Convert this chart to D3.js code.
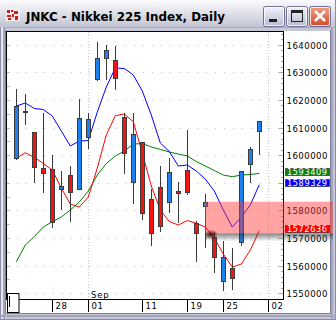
<!DOCTYPE html>
<html><head><meta charset="utf-8">
<script src="https://cdn.jsdelivr.net/npm/d3@7"></script>
<style>html,body{margin:0;padding:0;background:#fff;overflow:hidden}</style>
</head><body><svg id="c" width="336" height="320"></svg>
<script>
// ---------- DATA ----------
const title = "JNKC - Nikkei 225 Index, Daily";
const dates = ["2006-08-22","2006-08-23","2006-08-24","2006-08-25","2006-08-28","2006-08-29","2006-08-30","2006-08-31",
  "2006-09-01","2006-09-04","2006-09-05","2006-09-06","2006-09-07","2006-09-08","2006-09-11","2006-09-12","2006-09-13",
  "2006-09-14","2006-09-15","2006-09-19","2006-09-20","2006-09-21","2006-09-22","2006-09-25","2006-09-26","2006-09-27",
  "2006-09-28","2006-09-29"];
const futureDates = ["2006-10-02"];
const opens  = [1598900,1615700,1608300,1595400,1595000,1587600,1592800,1587900,1606700,1627500,1635100,1634500,1613700,1590400,
  1604600,1584100,1588400,1583000,1587200,1594500,1575400,1581600,1570500,1554400,1559100,1568700,1596800,1608900];
const highs  = [1624000,1622100,1608500,1615300,1600100,1594300,1596100,1620300,1615200,1641000,1639900,1639600,1615200,1615400,
  1604700,1587600,1596100,1598900,1590300,1609100,1576200,1585900,1572300,1568900,1566500,1594300,1603000,1612400];
const lows   = [1598700,1611200,1590400,1586800,1574100,1580500,1576300,1587600,1602500,1627400,1627500,1623900,1593700,1582800,
  1576800,1567400,1572700,1579600,1575900,1586100,1561800,1566900,1557800,1551200,1551500,1567500,1590400,1600300];
const closes = [1617800,1615900,1595600,1593400,1575900,1588900,1586800,1613400,1613100,1635200,1638100,1627800,1600700,1607600,
  1579000,1571700,1574500,1593900,1586200,1586800,1571700,1583100,1563000,1563000,1555400,1594200,1602100,1612300];
const maShort = [1598870,1600890,1599230,1596980,1594630,1588110,1582320,1581230,1584850,1595350,1607300,1614290,1614910,1612120,
  1600790,1588840,1580150,1575980,1574710,1576340,1575330,1573990,1570010,1564210,1559500,1560590,1565660,1572636];
const maMid = [1617800,1618890,1616900,1616540,1614180,1608750,1603320,1605130,1605310,1615630,1624680,1631560,1631400,1629030,
  1623240,1614540,1604410,1601330,1596080,1596440,1594270,1591370,1587030,1580150,1573990,1577610,1581960,1589329];
const maLong = [1561420,1567470,1570550,1573990,1575910,1577610,1580150,1583040,1587030,1592820,1596980,1599700,1601510,1604040,
  1604220,1602960,1602120,1601150,1600420,1599700,1597710,1596080,1594450,1592820,1592200,1592820,1593000,1593409];
const yTicks = [1550000,1560000,1570000,1580000,1590000,1600000,1610000,1620000,1630000,1640000];
const xTickDates = ["2006-08-28","2006-09-01","2006-09-11","2006-09-19","2006-09-25","2006-10-02"];
const xTickLabels = ["28","01","11","19","25","02"];
const monthDates = ["2006-09-01","2006-10-02"];
const monthLabels = ["Sep",""];
const zoneTop = 1583150, zoneBottom = 1571700, zoneStart = "2006-09-21";

// ---------- SETUP ----------
const svg = d3.select("#c");
const defs = svg.append("defs");
const slots = dates.concat(futureDates);
const x = d3.scalePoint().domain(slots).range([16.3, 268.3]);
const y = d3.scaleLinear().domain([1550000, 1640000]).range([293.3, 44.7]);
const px = v => Math.round(v);
const P = {l:6.5, t:31.5, r:283.5, b:299.5};

// ---------- WINDOW CHROME ----------
svg.append("rect").attr("x",0).attr("y",0).attr("width",336).attr("height",320).attr("fill","#c6c7d6");
const tg = defs.append("linearGradient").attr("id","tbar").attr("x1",0).attr("y1",0).attr("x2",0).attr("y2",1);
tg.append("stop").attr("offset",0).attr("stop-color","#fbfbfd");
tg.append("stop").attr("offset",0.45).attr("stop-color","#e2e2ea");
tg.append("stop").attr("offset",1).attr("stop-color","#c3c4d4");
svg.append("rect").attr("x",0).attr("y",0).attr("width",336).attr("height",27).attr("fill","url(#tbar)");
svg.append("line").attr("x1",0).attr("x2",336).attr("y1",27.5).attr("y2",27.5).attr("stroke","#a8a9bf");
svg.append("rect").attr("x",0).attr("y",27).attr("width",1).attr("height",293).attr("fill","#8c8ca6");
svg.append("rect").attr("x",1).attr("y",27).attr("width",2).attr("height",293).attr("fill","#e6e6ef");
svg.append("rect").attr("x",3).attr("y",27).attr("width",2).attr("height",293).attr("fill","#a4a4bc");
svg.append("rect").attr("x",331).attr("y",27).attr("width",2).attr("height",293).attr("fill","#a4a4bc");
svg.append("rect").attr("x",335).attr("y",0).attr("width",1).attr("height",320).attr("fill","#8c8ca6");
svg.append("rect").attr("x",0).attr("y",315).attr("width",336).attr("height",2).attr("fill","#a4a4bc");
svg.append("rect").attr("x",0).attr("y",319).attr("width",336).attr("height",1).attr("fill","#8c8ca6");
svg.append("rect").attr("x",6).attr("y",31).attr("width",324).attr("height",282).attr("fill","#ffffff");
svg.append("line").attr("x1",330.5).attr("x2",330.5).attr("y1",30).attr("y2",314).attr("stroke","#7e7e98");
svg.append("line").attr("x1",5.5).attr("x2",5.5).attr("y1",30).attr("y2",314).attr("stroke","#7e7e98");
svg.append("line").attr("x1",5).attr("x2",331).attr("y1",313.5).attr("y2",313.5).attr("stroke","#7e7e98");

// icon
svg.append("rect").attr("x",6).attr("y",9).attr("width",14).attr("height",12).attr("fill","#f4f0f0");
[[7,10,3,3],[11,10,2,2],[14,11,4,3],[7,15,4,2],[12,14,2,3],[15,16,3,4],[8,18,3,2]].forEach(r=>
  svg.append("rect").attr("x",r[0]).attr("y",r[1]).attr("width",r[2]).attr("height",r[3]).attr("fill","#d81818"));
// title
svg.append("text").attr("x",26).attr("y",20.5).attr("font-family","DejaVu Sans, sans-serif").attr("font-weight","bold")
  .attr("font-size",12.5).attr("textLength",199).attr("lengthAdjust","spacingAndGlyphs").attr("fill","#000").text(title);
// buttons
const bg = defs.append("linearGradient").attr("id","btn").attr("x1",0).attr("y1",0).attr("x2",0).attr("y2",1);
bg.append("stop").attr("offset",0).attr("stop-color","#f2f3fa");
bg.append("stop").attr("offset",1).attr("stop-color","#b7bad2");
const cg = defs.append("linearGradient").attr("id","cbtn").attr("x1",0).attr("y1",0).attr("x2",0).attr("y2",1);
cg.append("stop").attr("offset",0).attr("stop-color","#f0a080");
cg.append("stop").attr("offset",1).attr("stop-color","#d24a2c");
[[263.5,"url(#btn)"],[286.5,"url(#btn)"],[309.5,"url(#cbtn)"]].forEach(b=>{
  svg.append("rect").attr("x",b[0]).attr("y",6.5).attr("width",21).attr("height",20).attr("rx",2)
    .attr("fill",b[1]).attr("stroke","#6f7195");
  svg.append("rect").attr("x",b[0]+1).attr("y",7.5).attr("width",19).attr("height",18).attr("rx",1.5)
    .attr("fill","none").attr("stroke","#ffffff").attr("stroke-opacity",0.8);
});
svg.append("rect").attr("x",269).attr("y",19).attr("width",8).attr("height",3).attr("fill","#222");
svg.append("rect").attr("x",291.5).attr("y",10.5).attr("width",11).attr("height",11).attr("fill","none").attr("stroke","#222");
svg.append("rect").attr("x",291).attr("y",10).attr("width",12).attr("height",3).attr("fill","#222");
svg.append("path").attr("d","M315,11 L325,21 M325,11 L315,21").attr("stroke","#fff").attr("stroke-width",2.6);

// ---------- PLOT ----------
const gGrid = svg.append("g");
gGrid.selectAll("line.h").data(yTicks).join("line").attr("x1",8).attr("x2",283)
  .attr("y1",d=>px(y(d))+0.5).attr("y2",d=>px(y(d))+0.5)
  .attr("stroke","#c4c4c4").attr("stroke-dasharray","1,8");
gGrid.selectAll("line.v").data(monthDates).join("line")
  .attr("x1",d=>px(x(d))+0.5).attr("x2",d=>px(x(d))+0.5).attr("y1",32).attr("y2",299)
  .attr("stroke","#c8c8c8").attr("stroke-dasharray","1,2");
const minor5 = d3.range(1545000, 1645001, 5000);
gGrid.selectAll("line.lt").data(minor5).join("line").attr("x1",7).attr("x2",10)
  .attr("y1",d=>px(y(d))+0.5).attr("y2",d=>px(y(d))+0.5).attr("stroke","#b8b8b8");
const minor2 = d3.range(1548000, 1645001, 2000);
gGrid.selectAll("line.rt").data(minor2).join("line")
  .attr("x1",d=>d%10000===0?279:281).attr("x2",283)
  .attr("y1",d=>px(y(d))+0.5).attr("y2",d=>px(y(d))+0.5).attr("stroke","#a8a8a8");

svg.selectAll("text.m").data(monthDates).join("text").attr("x",d=>px(x(d))+3).attr("y",297.5)
  .attr("font-family","DejaVu Sans, sans-serif").attr("font-size",8.5).attr("letter-spacing",0.8)
  .attr("fill","#000").text((d,i)=>monthLabels[i]);

defs.append("clipPath").attr("id","pc").append("rect").attr("x",7).attr("y",32).attr("width",276).attr("height",267);
const gp = svg.append("g").attr("clip-path","url(#pc)");

const line = d3.line().x((d,i)=>x(dates[i])).y(d=>y(d));
[[maLong,"#008000"],[maMid,"#0000ff"],[maShort,"#ff0000"]].forEach(s=>{
  gp.append("path").attr("d",line(s[0])).attr("fill","none").attr("stroke",s[1]).attr("stroke-width",1);
});

const idx = d3.range(dates.length);
const gc = gp.append("g");
gc.selectAll("line.w").data(idx).join("line")
  .attr("x1",i=>px(x(dates[i]))+0.5).attr("x2",i=>px(x(dates[i]))+0.5)
  .attr("y1",i=>px(y(highs[i]))).attr("y2",i=>px(y(lows[i]))+1)
  .attr("stroke","#3c3c3c");
gc.selectAll("rect.b").data(idx).join("rect")
  .attr("x",i=>px(x(dates[i]))-1.5).attr("width",4)
  .attr("y",i=>px(y(Math.max(opens[i],closes[i])))+0.5)
  .attr("height",i=>Math.max(1, px(y(Math.min(opens[i],closes[i])))-px(y(Math.max(opens[i],closes[i])))))
  .attr("fill",i=>closes[i]>=opens[i]?"#1e80f0":"#f41414")
  .attr("stroke","#3c3c3c");

svg.append("rect").attr("x",P.l).attr("y",P.t).attr("width",P.r-P.l).attr("height",P.b-P.t)
  .attr("fill","none").attr("stroke","#000");

svg.selectAll("line.xt").data(xTickDates).join("line")
  .attr("x1",d=>px(x(d))+0.5).attr("x2",d=>px(x(d))+0.5).attr("y1",299).attr("y2",312)
  .attr("stroke","#000");
svg.selectAll("text.xl").data(xTickDates).join("text")
  .attr("x",d=>px(x(d))+3.5).attr("y",308.5)
  .attr("font-family","DejaVu Sans, sans-serif").attr("font-size",8.5).attr("letter-spacing",0.6)
  .attr("fill","#000").text((d,i)=>xTickLabels[i]);

// MA end values (boxes hide any axis label they cover)
const boxes = [[maLong,"#0a800a"],[maMid,"#0000ff"],[maShort,"#ff0000"]];
const boxY = boxes.map(b=>px(y(b[0][b[0].length-1])-1.6));
const visibleTicks = yTicks.filter(t=>boxY.every(by=>Math.abs(y(t)-by)>6.5));
svg.selectAll("text.yl").data(visibleTicks).join("text")
  .attr("x",286.5).attr("y",d=>y(d)+4)
  .attr("font-family","DejaVu Sans, sans-serif").attr("font-size",8.6).attr("letter-spacing",0.45)
  .attr("fill","#000").text(d=>d3.format("d")(d));

// zone band
const x0 = px(x(zoneStart));
const sg = defs.append("linearGradient").attr("id","shadow").attr("x1",0).attr("y1",0).attr("x2",0).attr("y2",1);
sg.append("stop").attr("offset",0).attr("stop-color","#303030").attr("stop-opacity",0.6);
sg.append("stop").attr("offset",1).attr("stop-color","#303030").attr("stop-opacity",0);
svg.append("rect").attr("x",x0+1).attr("y",y(zoneBottom)).attr("width",333-x0-1).attr("height",8).attr("fill","url(#shadow)");
svg.append("rect").attr("x",x0).attr("y",y(zoneTop)).attr("width",333-x0)
  .attr("height",y(zoneBottom)-y(zoneTop)).attr("fill","#ff3232").attr("fill-opacity",0.45);
const rg = defs.append("radialGradient").attr("id","blob");
rg.append("stop").attr("offset",0).attr("stop-color","#400000").attr("stop-opacity",0.9);
rg.append("stop").attr("offset",1).attr("stop-color","#400000").attr("stop-opacity",0);
svg.append("ellipse").attr("cx",x0+6).attr("cy",y(zoneBottom)+1).attr("rx",7).attr("ry",5).attr("fill","url(#blob)");

boxes.forEach((b,k)=>{
  const v = b[0][b[0].length-1];
  const yy = boxY[k];
  svg.append("rect").attr("x",285.5).attr("y",yy-3.5).attr("width",44).attr("height",7)
    .attr("fill",b[1]).attr("stroke","#202020").attr("stroke-opacity",0.6);
  svg.append("text").attr("x",287).attr("y",yy+3)
    .attr("font-family","DejaVu Sans, sans-serif").attr("font-size",8.2).attr("letter-spacing",0.6)
    .attr("fill","#fff").text(d3.format("d")(v));
});

svg.append("rect").attr("x",7.5).attr("y",293.5).attr("width",11.5).attr("height",19).attr("fill","#fff").attr("stroke","#000");
svg.append("line").attr("x1",9.5).attr("x2",9.5).attr("y1",296).attr("y2",307).attr("stroke","#000");
</script>
</body></html>
